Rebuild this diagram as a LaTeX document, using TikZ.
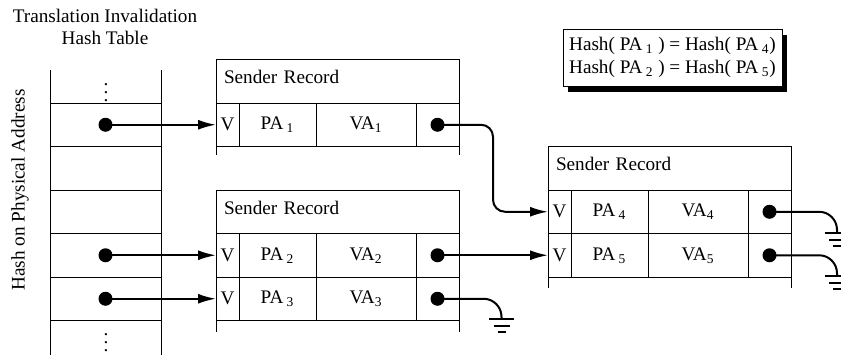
\documentclass[tikz,border=0pt]{standalone}
\usepackage{fontspec}
\setmainfont{Liberation Serif}
\usetikzlibrary{arrows.meta,shadows}
\newcommand{\earth}[1]{%
  \draw[line width=1pt] (#1) ++(-12.5,0) -- ++(25,0)
    (#1) ++(-8,7) -- ++(16,0)
    (#1) ++(-4,13) -- ++(8,0);}

\begin{document}
\begin{tikzpicture}[x=0.5pt, y=-0.5pt,
  font=\fontsize{9.6}{11.25}\selectfont,
  every node/.style={inner sep=0, outer sep=0},
  cell/.style={draw, thin, minimum height=21.75pt},
  vcell/.style={cell, minimum width=11.5pt},
  pacell/.style={cell, minimum width=38.5pt},
  vacell/.style={cell, minimum width=50pt},
  ptrcell/.style={cell, minimum width=21.5pt},
  header/.style={cell, minimum width=121.5pt, text width=113.5pt,
    align=left, text depth=4pt},
  slot/.style={cell, minimum width=55.5pt},
  dot/.style={circle, fill, minimum size=7pt},
  link/.style={-{Latex[length=9pt,width=5pt]}, line width=1pt},
  wire/.style={line width=1pt, rounded corners=9pt}]
  \useasboundingbox (0,0) rectangle (841,354);

  \node[align=center] (title) at (105,27) {Translation Invalidation\\Hash Table};
  \node[rotate=90] (axis) at (20,190) {Hash on Physical Address};

  % hash table
  \node[slot] (s1) at (105.5,124.75) {};
  \node[slot] (s2) at (105.5,168.25) {};
  \node[slot] (s3) at (105.5,211.75) {};
  \node[slot] (s4) at (105.5,255.25) {};
  \node[slot] (s5) at (105.5,298.75) {};
  \draw[thin] (s1.north west) -- ++(0,-33) (s1.north east) -- ++(0,-33);
  \draw[thin] (s5.south west) -- ++(0,34) (s5.south east) -- ++(0,34);
  \node (more) at (106,87) {$\vdots$};
  \node (less) at (106,337) {$\vdots$};

  % first record
  \node[header] (h1) at (337.5,81.25) {Sender Record};
  \node[vcell] (v1) at (227.5,124.75) {V};
  \node[pacell] (pa1) at (277.5,124.75) {PA\,\textsubscript{1}};
  \node[vacell] (va1) at (366,124.75) {VA\textsubscript{1}};
  \node[ptrcell] (p1) at (437.5,124.75) {};
  \draw[thin] (v1.south west) -- ++(0,8) (p1.south east) -- ++(0,8);

  % second record
  \node[header] (h2) at (337.5,211.75) {Sender Record};
  \node[vcell] (v2) at (227.5,255.25) {V};
  \node[pacell] (pa2) at (277.5,255.25) {PA\,\textsubscript{2}};
  \node[vacell] (va2) at (366,255.25) {VA\textsubscript{2}};
  \node[ptrcell] (p2) at (437.5,255.25) {};
  \node[vcell] (v3) at (227.5,298.75) {V};
  \node[pacell] (pa3) at (277.5,298.75) {PA\,\textsubscript{3}};
  \node[vacell] (va3) at (366,298.75) {VA\textsubscript{3}};
  \node[ptrcell] (p3) at (437.5,298.75) {};
  \draw[thin] (v3.south west) -- ++(0,11) (p3.south east) -- ++(0,11);

  % third record
  \node[header] (h3) at (669.5,168.25) {Sender Record};
  \node[vcell] (v4) at (559.5,211.75) {V};
  \node[pacell] (pa4) at (609.5,211.75) {PA\,\textsubscript{4}};
  \node[vacell] (va4) at (698,211.75) {VA\textsubscript{4}};
  \node[ptrcell] (p4) at (769.5,211.75) {};
  \node[vcell] (v5) at (559.5,255.25) {V};
  \node[pacell] (pa5) at (609.5,255.25) {PA\,\textsubscript{5}};
  \node[vacell] (va5) at (698,255.25) {VA\textsubscript{5}};
  \node[ptrcell] (p5) at (769.5,255.25) {};
  \draw[thin] (v5.south west) -- ++(0,11) (p5.south east) -- ++(0,11);

  \node[draw, thin, fill=white, minimum width=109.5pt, minimum height=28.5pt,
    align=left, drop shadow={shadow xshift=2.5pt, shadow yshift=-3pt,
    fill=black, opacity=1}] (key) at (672.5,57.5)
    {Hash( PA\,\textsubscript{1} ) = Hash( PA\,\textsubscript{4})\\
     Hash( PA\,\textsubscript{2} ) = Hash( PA\,\textsubscript{5})};

  % pointers
  \node[dot] (t1) at (s1) {};
  \node[dot] (t4) at (s4) {};
  \node[dot] (t5) at (s5) {};
  \node[dot] (n1) at (p1) {};
  \node[dot] (n2) at (p2) {};
  \node[dot] (n3) at (p3) {};
  \node[dot] (n4) at (p4) {};
  \node[dot] (n5) at (p5) {};

  \coordinate (bend) at (493,170);
  \coordinate (g3) at (501.5,319);
  \coordinate (g4) at (837,233);
  \coordinate (g5) at (837,276);

  \draw[link] (t1.center) -- (v1.west);
  \draw[link] (t4.center) -- (v2.west);
  \draw[link] (t5.center) -- (v3.west);
  \draw[link] (n2.center) -- (v5.west);
  \draw[link, rounded corners=6pt] (n1.center) -| (bend) |- (v4.west);

  \draw[wire] (n3.center) -| (g3);
  \draw[wire] (n4.center) -| (g4);
  \draw[wire] (n5.center) -| (g5);
  \earth{g3}
  \earth{g4}
  \earth{g5}
\end{tikzpicture}
\end{document}
